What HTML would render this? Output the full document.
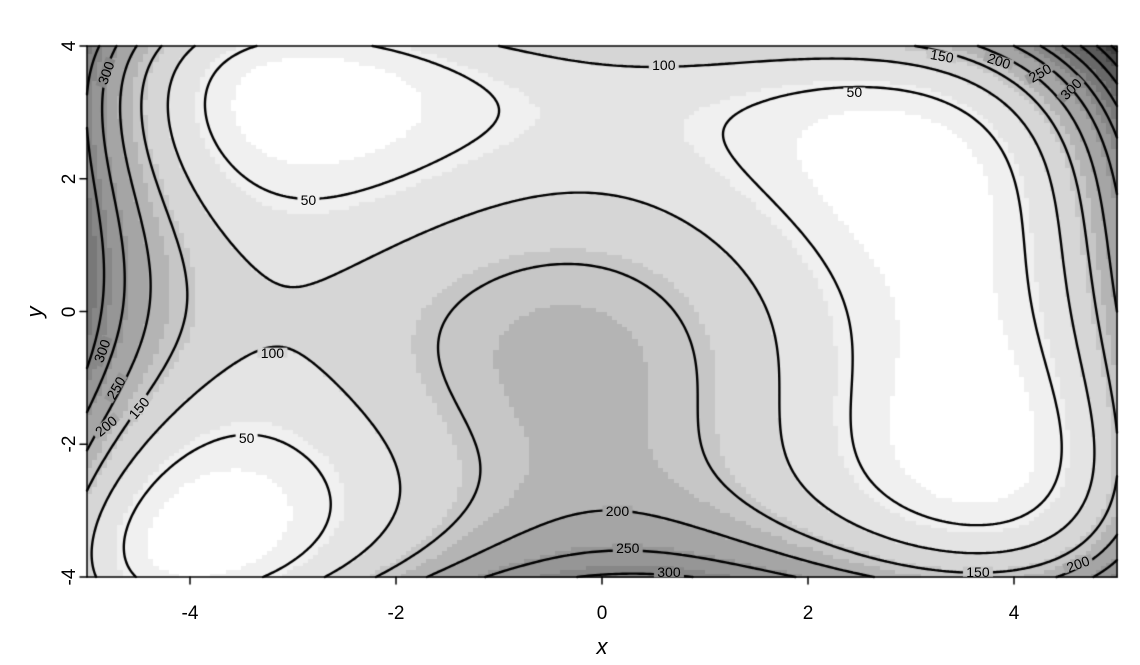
<!DOCTYPE html>
<html><head><meta charset="utf-8"><style>
body{margin:0;background:#fff;width:1140px;height:665px;overflow:hidden;font-family:"Liberation Sans",sans-serif}
#wrap{position:relative;width:1140px;height:665px}
canvas{position:absolute;left:0;top:0}
.lbl{position:absolute;font-size:14px;color:#000;transform:translate(-50%,-50%);white-space:nowrap;line-height:14px}
.tick{position:absolute;font-size:19px;color:#000;transform:translate(-50%,-50%)}
</style></head><body>
<div id="wrap">
<canvas id="c" width="1140" height="665"></canvas>
</div>
<script>
const xTicks=[-4,-2,0,2,4];
const yTicks=[-4,-2,0,2,4];
const levels=[50,100,150,200,250,300,350,400,450,500];
const labelVals=[100,50,150,200,250,300,50,300,100,50,300,250,150,200,200,250,300,150,200];
const labelX=[0.6,2.45,3.3,3.85,4.25,4.55,-2.85,-4.82,-3.2,-3.45,-4.85,-4.72,-4.5,-4.82,0.15,0.25,0.65,3.65,4.62];
const labelY=[3.72,3.3,3.85,3.78,3.6,3.35,1.68,3.6,-0.62,-1.9,-0.6,-1.15,-1.45,-1.72,-3.0,-3.57,-3.93,-3.92,-3.8];
const labelRot=[0,0,10,18,-30,-45,0,-70,0,0,-70,-60,-50,-40,0,0,0,0,-20];
const X0=87,X1=1117,Y0=46,Y1=577;
const sx=x=>X0+(x+5)/10*(X1-X0);
const sy=y=>Y1-(y+4)/8*(Y1-Y0);
const f=(x,y)=>(x*x+y-11)**2+(x+y*y-7)**2;
function gray(v){
 if(v<25)return 255;if(v<60)return 240;if(v<100)return 228;if(v<140)return 214;if(v<170)return 198;if(v<200)return 180;
 return Math.max(50,Math.round(180-Math.floor((v-200)/40+1)*15));
}
const cv=document.getElementById('c'),ctx=cv.getContext('2d');
const N=200,M=140;
for(let i=0;i<N;i++)for(let j=0;j<M;j++){
 const x=-5+(i+0.5)/N*10,y=-4+(j+0.5)/M*8;
 const g=gray(f(x,y));
 ctx.fillStyle=`rgb(${g},${g},${g})`;
 const a=sx(-5+i/N*10),b=sy(-4+(j+1)/M*8);
 ctx.fillRect(Math.floor(a),Math.floor(b),Math.ceil(sx(-5+(i+1)/N*10)-a)+1,Math.ceil(sy(-4+j/M*8)-b)+1);
}
const G=300,H=240;
ctx.strokeStyle='#000';ctx.lineWidth=2.4;ctx.lineCap='round';
const gx=i=>-5+i/G*10,gy=j=>-4+j/H*8;
const val=[];for(let i=0;i<=G;i++){val[i]=[];for(let j=0;j<=H;j++)val[i][j]=f(gx(i),gy(j));}
ctx.beginPath();
for(const L of levels){
 for(let i=0;i<G;i++)for(let j=0;j<H;j++){
  const c=[[gx(i),gy(j),val[i][j]],[gx(i+1),gy(j),val[i+1][j]],[gx(i+1),gy(j+1),val[i+1][j+1]],[gx(i),gy(j+1),val[i][j+1]]];
  const pts=[];
  for(let k=0;k<4;k++){const p=c[k],q=c[(k+1)%4];
   if((p[2]<L)!==(q[2]<L)){const t=(L-p[2])/(q[2]-p[2]);pts.push([p[0]+t*(q[0]-p[0]),p[1]+t*(q[1]-p[1])]);}}
  for(let k=0;k+1<pts.length;k+=2){ctx.moveTo(sx(pts[k][0]),sy(pts[k][1]));ctx.lineTo(sx(pts[k+1][0]),sy(pts[k+1][1]));}
 }
}
ctx.stroke();
ctx.lineWidth=1.5;ctx.strokeRect(X0,Y0,X1-X0,Y1-Y0);
ctx.beginPath();
for(const t of xTicks){ctx.moveTo(sx(t),Y1);ctx.lineTo(sx(t),Y1+7);}
for(const t of yTicks){ctx.moveTo(X0,sy(t));ctx.lineTo(X0-7,sy(t));}
ctx.stroke();
const wrap=document.getElementById('wrap');
labelVals.forEach((v,k)=>{
 const d=document.createElement('div');d.className='lbl';d.textContent=v;
 
 
 d.style.left=sx(labelX[k])+'px';d.style.top=sy(labelY[k])+'px';
 d.style.transform=`translate(-50%,-50%) rotate(${labelRot[k]}deg)`;
 wrap.appendChild(d);
 const w=v>=100?26:18;
 ctx.save();ctx.translate(sx(labelX[k]),sy(labelY[k]));ctx.rotate(labelRot[k]*Math.PI/180);
 const g=gray(v);
 ctx.fillStyle=`rgb(${g},${g},${g})`;ctx.fillRect(-w/2-2,-5,w+4,10);ctx.restore();
});
xTicks.forEach(t=>{const d=document.createElement('div');d.className='tick';d.textContent=t<0?'-'+(-t):t;
 
 
 d.style.left=sx(t)+'px';d.style.top='614px';wrap.appendChild(d);});
yTicks.forEach(t=>{const d=document.createElement('div');d.className='tick';d.textContent=t<0?'-'+(-t):t;
 
 
 d.style.left='70px';d.style.top=sy(t)+'px';d.style.transform='translate(-50%,-50%) rotate(-90deg)';wrap.appendChild(d);});
const xt=document.createElement('div');xt.className='tick';xt.textContent='x';xt.style.fontStyle='italic';xt.style.fontSize='22px';


xt.style.left='602px';xt.style.top='647px';wrap.appendChild(xt);
const yt=document.createElement('div');yt.className='tick';yt.textContent='y';yt.style.fontStyle='italic';yt.style.fontSize='22px';


yt.style.left='35px';yt.style.top='312px';yt.style.transform='translate(-50%,-50%) rotate(-90deg)';wrap.appendChild(yt);
</script>
</body></html>
